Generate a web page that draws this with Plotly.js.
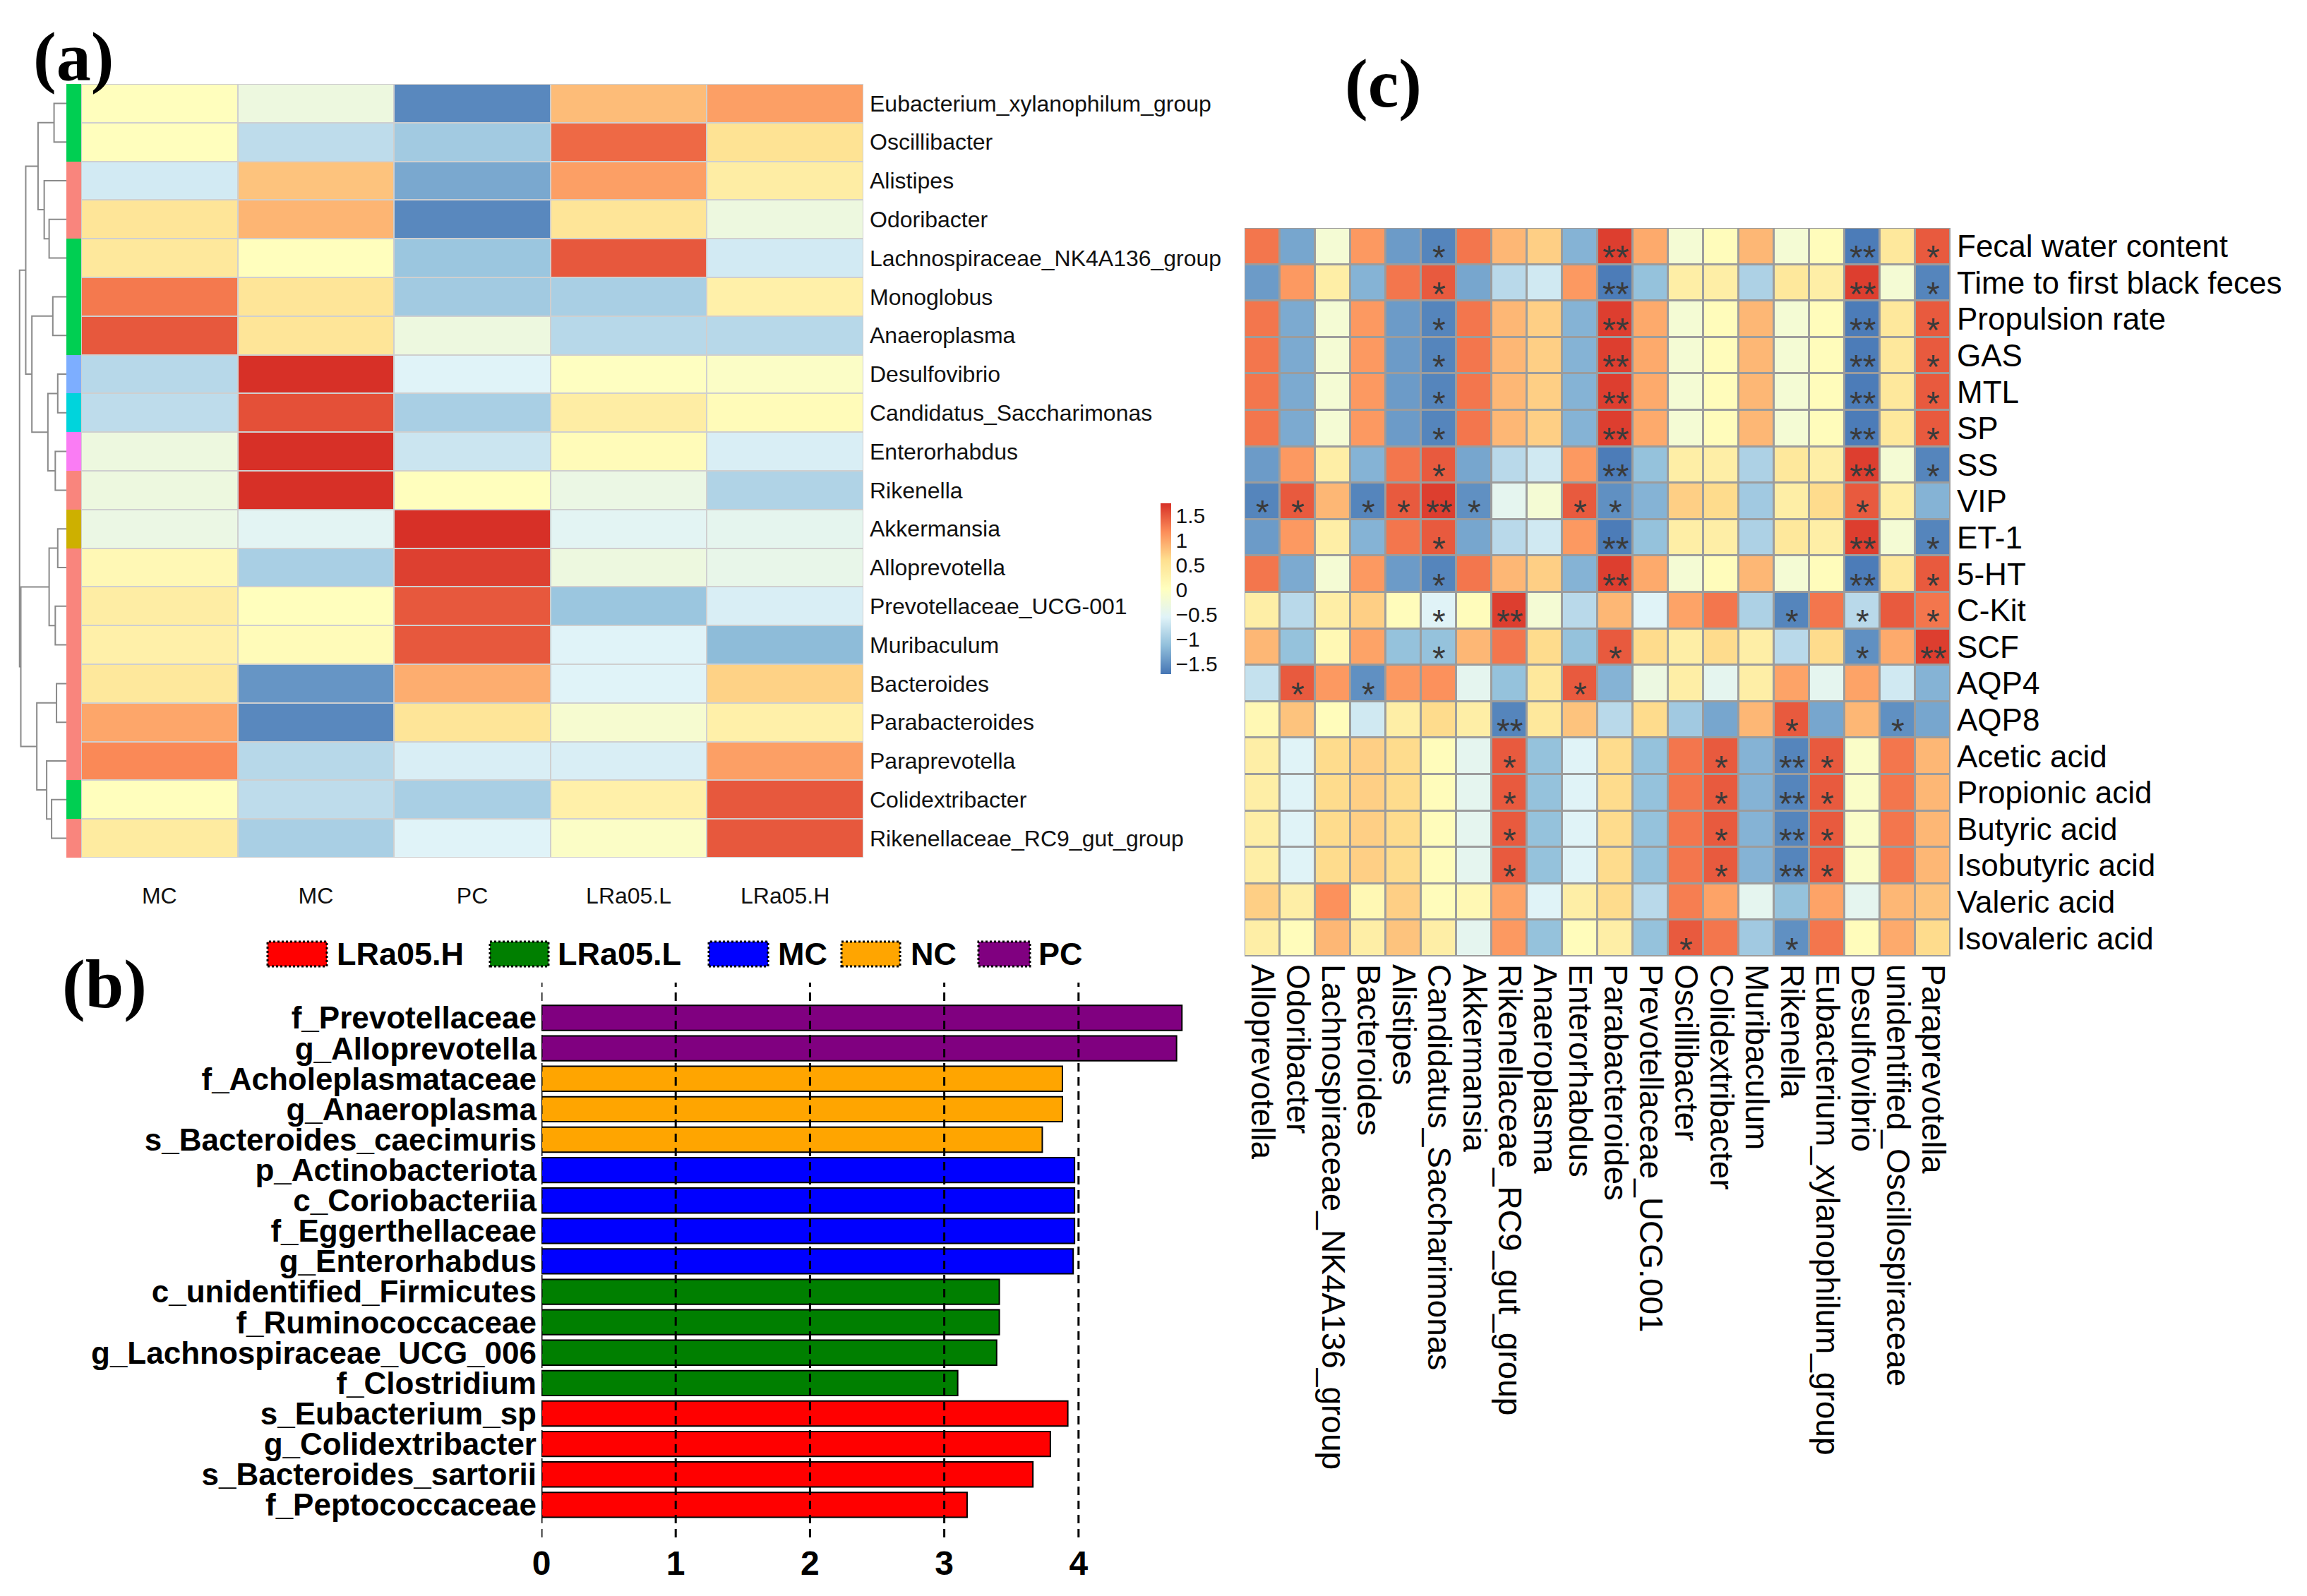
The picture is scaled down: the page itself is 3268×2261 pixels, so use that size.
<!DOCTYPE html>
<html>
<head>
<meta charset="utf-8">
<script src="https://cdn.plot.ly/plotly-3.0.1.min.js"></script>
<style>html,body{margin:0;padding:0;background:#fff}#chart{width:3268px;height:2261px}</style>
</head>
<body>
<div id="chart"></div>
<script>
// ---------------- Panel (a): abundance heatmap ----------------
const rowNamesA = ['Eubacterium_xylanophilum_group','Oscillibacter','Alistipes','Odoribacter',
  'Lachnospiraceae_NK4A136_group','Monoglobus','Anaeroplasma','Desulfovibrio','Candidatus_Saccharimonas',
  'Enterorhabdus','Rikenella','Akkermansia','Alloprevotella','Prevotellaceae_UCG-001','Muribaculum',
  'Bacteroides','Parabacteroides','Paraprevotella','Colidextribacter','Rikenellaceae_RC9_gut_group'];
const colLabelsA = ['MC','MC','PC','LRa05.L','LRa05.H'];
const abundanceZ = [
  [0.05,-0.3,-1.55,0.85,1.05],
  [0.05,-0.8,-1.0,1.4,0.55],
  [-0.65,0.8,-1.3,1.05,0.35],
  [0.5,0.9,-1.55,0.5,-0.3],
  [0.45,0.05,-1.05,1.5,-0.65],
  [1.3,0.5,-1.0,-0.95,0.3],
  [1.5,0.5,-0.3,-0.85,-0.85],
  [-0.85,1.75,-0.55,0.0,-0.05],
  [-0.8,1.55,-0.95,0.35,0.1],
  [-0.3,1.75,-0.7,0.1,-0.6],
  [-0.3,1.75,0.05,-0.35,-0.9],
  [-0.35,-0.5,1.75,-0.5,-0.45],
  [0.15,-0.95,1.65,-0.3,-0.4],
  [0.35,0.05,1.5,-1.05,-0.6],
  [0.3,0.1,1.5,-0.55,-1.15],
  [0.45,-1.45,0.95,-0.55,0.7],
  [1.0,-1.55,0.5,-0.15,0.3],
  [1.2,-0.85,-0.6,-0.6,1.05],
  [0.05,-0.8,-0.95,0.3,1.5],
  [0.4,-0.95,-0.55,-0.05,1.5]
];
const phylumA = ['Firmicutes','Firmicutes','Bacteroidota','Bacteroidota','Firmicutes','Firmicutes','Firmicutes',
  'Desulfobacterota','Patescibacteria','Actinobacteriota','Bacteroidota','Verrucomicrobiota','Bacteroidota',
  'Bacteroidota','Bacteroidota','Bacteroidota','Bacteroidota','Bacteroidota','Firmicutes','Bacteroidota'];
const phylumNames = ['Bacteroidota','Verrucomicrobiota','Firmicutes','Patescibacteria','Desulfobacterota','Actinobacteriota'];
const phylumColors = ['#F9857D','#CDB000','#00CF52','#00D4DC','#7DAEFF','#FA7CF4'];
// dendrogram merges: [left, right, height]; negative = leaf (row number), positive = earlier merge
const dendroMerges = [
  [-1,-2,50],[-4,-5,70],[-3,2,90],[1,3,115],[-6,-7,55],[-8,-9,35],[-10,-11,45],[6,7,75],
  [5,8,140],[4,9,165],[-12,-13,35],[-14,-15,45],[11,12,70],[-16,-17,40],[-19,-20,60],
  [-18,15,80],[14,16,120],[13,17,185],[10,18,190]
];
const colorbarTicks = [-1.5,-1,-0.5,0,0.5,1,1.5];
const colorbarTickText = ['\u22121.5','\u22121','\u22120.5','0','0.5','1','1.5'];

// ---------------- Panel (c): correlation heatmap ----------------
const colLabelsC = ['Alloprevotella','Odoribacter','Lachnospiraceae_NK4A136_group','Bacteroides','Alistipes',
  'Candidatus_Saccharimonas','Akkermansia','Rikenellaceae_RC9_gut_group','Anaeroplasma','Enterorhabdus',
  'Parabacteroides','Prevotellaceae_UCG.001','Oscillibacter','Colidextribacter','Muribaculum','Rikenella',
  'Eubacterium_xylanophilum_group','Desulfovibrio','unidentified_Oscillospiraceae','Paraprevotella'];
const rowLabelsC = ['Fecal water content','Time to first black feces','Propulsion rate','GAS','MTL','SP','SS',
  'VIP','ET-1','5-HT','C-Kit','SCF','AQP4','AQP8','Acetic acid','Propionic acid','Butyric acid',
  'Isobutyric acid','Valeric acid','Isovaleric acid'];
const corrZ = [
  [0.75,-0.78,-0.12,0.62,-0.83,-0.93,0.75,0.5,0.4,-0.72,0.95,0.55,-0.12,0.03,0.5,-0.12,0.03,-0.97,0.25,0.85],
  [-0.83,0.62,0.18,-0.72,0.75,0.85,-0.78,-0.5,-0.4,0.62,-0.97,-0.65,0.18,0.18,-0.55,0.25,0.18,0.95,-0.12,-0.93],
  [0.75,-0.76,-0.12,0.62,-0.83,-0.93,0.75,0.5,0.4,-0.72,0.95,0.55,-0.12,0.03,0.5,-0.12,0.03,-0.97,0.25,0.85],
  [0.75,-0.76,-0.12,0.62,-0.83,-0.93,0.75,0.5,0.4,-0.72,0.95,0.55,-0.12,0.03,0.5,-0.12,0.03,-0.97,0.25,0.85],
  [0.75,-0.76,-0.12,0.62,-0.83,-0.93,0.75,0.5,0.4,-0.72,0.95,0.55,-0.12,0.03,0.5,-0.12,0.03,-0.97,0.25,0.85],
  [0.75,-0.76,-0.12,0.62,-0.83,-0.93,0.75,0.5,0.4,-0.72,0.95,0.55,-0.12,0.03,0.5,-0.12,0.03,-0.97,0.25,0.85],
  [-0.83,0.62,0.18,-0.72,0.75,0.85,-0.78,-0.5,-0.4,0.62,-0.97,-0.65,0.18,0.18,-0.55,0.25,0.18,0.95,-0.12,-0.93],
  [-0.93,0.85,0.5,-0.93,0.85,0.95,-0.88,-0.28,-0.12,0.85,-0.88,-0.72,0.4,0.35,-0.6,0.18,0.35,0.85,0.18,-0.72],
  [-0.83,0.62,0.18,-0.72,0.75,0.85,-0.78,-0.5,-0.4,0.62,-0.97,-0.65,0.18,0.18,-0.55,0.25,0.18,0.95,-0.12,-0.93],
  [0.75,-0.76,-0.12,0.62,-0.83,-0.93,0.75,0.5,0.4,-0.72,0.95,0.55,-0.12,0.03,0.5,-0.12,0.03,-0.97,0.25,0.85],
  [0.18,-0.5,0.18,0.4,0.03,-0.33,0.03,0.95,-0.12,-0.5,0.5,-0.33,0.58,0.75,-0.55,-0.93,0.75,-0.5,0.85,0.75],
  [0.5,-0.65,0.08,0.58,-0.65,-0.65,0.5,0.75,0.35,-0.65,0.85,0.35,0.18,0.35,0.18,-0.5,0.35,-0.88,0.55,0.95],
  [-0.45,0.85,0.62,-0.88,0.62,0.65,-0.28,-0.65,0.25,0.85,-0.72,-0.2,0.18,-0.28,0.18,0.58,-0.28,0.58,-0.4,-0.72],
  [0.08,0.45,0.03,-0.4,0.18,0.35,0.18,-0.93,0.25,0.45,-0.5,0.35,-0.6,-0.78,0.5,0.85,-0.78,0.5,-0.88,-0.78],
  [0.18,-0.33,0.35,0.4,0.35,0.03,-0.28,0.85,-0.65,-0.33,0.35,-0.65,0.75,0.85,-0.72,-0.93,0.85,-0.05,0.75,0.5],
  [0.18,-0.33,0.35,0.4,0.35,0.03,-0.28,0.85,-0.65,-0.33,0.35,-0.65,0.75,0.85,-0.72,-0.93,0.85,-0.05,0.75,0.5],
  [0.18,-0.33,0.35,0.4,0.35,0.03,-0.28,0.85,-0.65,-0.33,0.35,-0.65,0.75,0.85,-0.72,-0.93,0.85,-0.05,0.75,0.5],
  [0.18,-0.33,0.35,0.4,0.35,0.03,-0.28,0.85,-0.65,-0.33,0.35,-0.65,0.75,0.85,-0.72,-0.93,0.85,-0.05,0.75,0.5],
  [0.4,0.18,0.65,0.08,0.4,0.03,0.08,0.58,-0.33,0.18,0.35,-0.5,0.72,0.58,-0.28,-0.65,0.58,-0.28,0.5,0.45],
  [0.18,0.03,0.5,0.18,0.45,0.18,-0.28,0.62,-0.65,0.03,0.18,-0.65,0.85,0.75,-0.6,-0.88,0.75,0.03,0.55,0.35]
];
const A='*', B='**', _='';
const sigC = [
  [_,_,_,_,_,A,_,_,_,_,B,_,_,_,_,_,_,B,_,A],
  [_,_,_,_,_,A,_,_,_,_,B,_,_,_,_,_,_,B,_,A],
  [_,_,_,_,_,A,_,_,_,_,B,_,_,_,_,_,_,B,_,A],
  [_,_,_,_,_,A,_,_,_,_,B,_,_,_,_,_,_,B,_,A],
  [_,_,_,_,_,A,_,_,_,_,B,_,_,_,_,_,_,B,_,A],
  [_,_,_,_,_,A,_,_,_,_,B,_,_,_,_,_,_,B,_,A],
  [_,_,_,_,_,A,_,_,_,_,B,_,_,_,_,_,_,B,_,A],
  [A,A,_,A,A,B,A,_,_,A,A,_,_,_,_,_,_,A,_,_],
  [_,_,_,_,_,A,_,_,_,_,B,_,_,_,_,_,_,B,_,A],
  [_,_,_,_,_,A,_,_,_,_,B,_,_,_,_,_,_,B,_,A],
  [_,_,_,_,_,A,_,B,_,_,_,_,_,_,_,A,_,A,_,A],
  [_,_,_,_,_,A,_,_,_,_,A,_,_,_,_,_,_,A,_,B],
  [_,A,_,A,_,_,_,_,_,A,_,_,_,_,_,_,_,_,_,_],
  [_,_,_,_,_,_,_,B,_,_,_,_,_,_,_,A,_,_,A,_],
  [_,_,_,_,_,_,_,A,_,_,_,_,_,A,_,B,A,_,_,_],
  [_,_,_,_,_,_,_,A,_,_,_,_,_,A,_,B,A,_,_,_],
  [_,_,_,_,_,_,_,A,_,_,_,_,_,A,_,B,A,_,_,_],
  [_,_,_,_,_,_,_,A,_,_,_,_,_,A,_,B,A,_,_,_],
  [_,_,_,_,_,_,_,_,_,_,_,_,_,_,_,_,_,_,_,_],
  [_,_,_,_,_,_,_,_,_,_,_,_,A,_,_,A,_,_,_,_]
];

// ---------------- Panel (b): LEfSe LDA bars ----------------
const barLabels = ['f_Prevotellaceae','g_Alloprevotella','f_Acholeplasmataceae','g_Anaeroplasma',
  's_Bacteroides_caecimuris','p_Actinobacteriota','c_Coriobacteriia','f_Eggerthellaceae','g_Enterorhabdus',
  'c_unidentified_Firmicutes','f_Ruminococcaceae','g_Lachnospiraceae_UCG_006','f_Clostridium',
  's_Eubacterium_sp','g_Colidextribacter','s_Bacteroides_sartorii','f_Peptococcaceae'];
const barValues = [4.77,4.73,3.88,3.88,3.73,3.97,3.97,3.97,3.96,3.41,3.41,3.39,3.10,3.92,3.79,3.66,3.17];
const barGroups = ['PC','PC','NC','NC','NC','MC','MC','MC','MC','LRa05.L','LRa05.L','LRa05.L','LRa05.L',
  'LRa05.H','LRa05.H','LRa05.H','LRa05.H'];
const legendGroups = ['LRa05.H','LRa05.L','MC','NC','PC'];
const groupColors = {'LRa05.H':'#FF0000','LRa05.L':'#007F00','MC':'#0000FF','NC':'#FFA500','PC':'#800080'};
const ldaTicks = [0,1,2,3,4];

// ---------------- helpers ----------------
const W = 3268, H = 2261;
const px = v => v / W;
const py = v => 1 - v / H;
const rdylbu = [[0,'#4575B4'],[1/6,'#91BFDB'],[2/6,'#E0F3F8'],[0.5,'#FFFFBF'],[4/6,'#FEE090'],[5/6,'#FC8D59'],[1,'#D73027']];
const FONT = 'Liberation Sans, Arial, sans-serif';

// discrete colorscale for the phylum strip
const stripScale = [];
phylumNames.forEach((n,i)=>{
  const k = phylumNames.length - 1;
  const lo = Math.max(0,(i-0.5)/k), hi = Math.min(1,(i+0.5)/k);
  stripScale.push([lo, phylumColors[i]]); stripScale.push([hi, phylumColors[i]]);
});
const stripZ = phylumA.map(p => [phylumNames.indexOf(p)]);

// dendrogram coordinates
const dx = [], dy = [];
(function(){
  const nodeY = [], nodeH = [];
  dendroMerges.forEach((m,i)=>{
    const [a,b,h] = m;
    const ya = a<0 ? (-a-1) : nodeY[a-1], ha = a<0 ? 0 : nodeH[a-1];
    const yb = b<0 ? (-b-1) : nodeY[b-1], hb = b<0 ? 0 : nodeH[b-1];
    dx.push(ha,h,h,hb,null); dy.push(ya,ya,yb,yb,null);
    nodeY[i] = (ya+yb)/2; nodeH[i] = h;
  });
})();

const traces = [];
traces.push({
  type:'heatmap', x:[0,1,2,3,4], y:rowNamesA, z:abundanceZ, xaxis:'x', yaxis:'y',
  colorscale: rdylbu, zmin:-1.7, zmax:1.75, xgap:2, ygap:2, hoverinfo:'skip',
  showscale:true,
  colorbar:{x:px(1644), xanchor:'left', y:py(834), yanchor:'middle', len:242/H, lenmode:'fraction',
    thickness:15, thicknessmode:'pixels', outlinewidth:0, xpad:0, ypad:0,
    tickvals:colorbarTicks, ticktext:colorbarTickText, ticks:'', tickfont:{family:FONT,size:30,color:'#111'}}
});
traces.push({
  type:'heatmap', x:[0], y:rowNamesA, z:stripZ, xaxis:'x4', yaxis:'y4',
  colorscale: stripScale, zmin:0, zmax:phylumNames.length-1, showscale:false, hoverinfo:'skip'
});
traces.push({
  type:'scatter', mode:'lines', x:dx, y:dy, xaxis:'x5', yaxis:'y5',
  line:{color:'#8a8a8a', width:2}, hoverinfo:'skip', showlegend:false
});
traces.push({
  type:'heatmap', x:colLabelsC, y:rowLabelsC, z:corrZ, xaxis:'x2', yaxis:'y2',
  colorscale: rdylbu, zmin:-1, zmax:1, xgap:3, ygap:3, showscale:false, hoverinfo:'skip'
});
traces.push({
  type:'bar', orientation:'h', x:barValues, y:barLabels, xaxis:'x3', yaxis:'y3',
  marker:{color:barGroups.map(g=>groupColors[g]), line:{color:'#000', width:2}},
  width:0.82, showlegend:false, hoverinfo:'skip'
});

const annotations = [];
// significance stars
sigC.forEach((row,i)=>row.forEach((s,j)=>{
  if (!s) return;
  annotations.push({xref:'x2', yref:'y2', x:j, y:i, text:s, showarrow:false,
    font:{family:FONT, size:48, color:'#3a3a3a'}, yshift:-16});
}));
// panel letters
[['(a)',104,80],['(b)',148,1394],['(c)',1959,118]].forEach(([t,x,y])=>{
  annotations.push({xref:'paper', yref:'paper', x:px(x), y:py(y), text:t, showarrow:false,
    xanchor:'center', yanchor:'middle', font:{family:'Liberation Serif, Times New Roman, serif', size:98, color:'#000', weight:'bold'}});
});

const shapes = [];
// cell border backgrounds
shapes.push({type:'rect', xref:'x domain', yref:'y domain', x0:0, x1:1, y0:0, y1:1, layer:'below',
  fillcolor:'#cfcfcf', line:{width:0}});
shapes.push({type:'rect', xref:'x2 domain', yref:'y2 domain', x0:0, x1:1, y0:0, y1:1, layer:'below',
  fillcolor:'#9c9c9c', line:{width:0}});
// dashed reference lines in (b)
ldaTicks.forEach(t=>{
  shapes.push({type:'line', xref:'x3', yref:'y3 domain', x0:t, x1:t, y0:0, y1:1, layer:'above',
    line:{color:'#000', width:3, dash:'12px,8px'}});
});
// legend of (b)
const legendPos = [[379,463,475],[694,777,788],[1004,1088,1100],[1192,1275,1288],[1386,1459,1469]];
legendGroups.forEach((g,i)=>{
  const [x0,x1,tx] = legendPos[i];
  shapes.push({type:'rect', xref:'paper', yref:'paper', x0:px(x0), x1:px(x1), y0:py(1369), y1:py(1334),
    fillcolor:groupColors[g], line:{color:'#000', width:3, dash:'dot'}});
  annotations.push({xref:'paper', yref:'paper', x:px(tx), y:py(1351), xanchor:'left', yanchor:'middle',
    text:g, showarrow:false, font:{family:FONT, size:45, color:'#000', weight:'bold'}});
});

const layout = {
  width:W, height:H, margin:{l:0,r:0,t:0,b:0}, paper_bgcolor:'#fff', plot_bgcolor:'rgba(0,0,0,0)',
  showlegend:false, font:{family:FONT, color:'#000'},
  // (a)
  xaxis:{domain:[px(115),px(1223)], anchor:'y', range:[-0.5,4.5], tickmode:'array', tickvals:[0,1,2,3,4], ticktext:colLabelsA,
    showgrid:false, zeroline:false, showline:false, ticks:'', ticklabelstandoff:32,
    tickfont:{family:FONT, size:32, color:'#111'}},
  yaxis:{domain:[py(1215),py(119)], anchor:'x', type:'category', range:[19.5,-0.5], side:'right', showgrid:false, zeroline:false,
    tickmode:'array', tickvals:rowNamesA, ticktext:rowNamesA,
    ticks:'', ticklabelstandoff:8, tickfont:{family:FONT, size:32, color:'#111'}},
  xaxis4:{domain:[px(94),px(115)], anchor:'y4', showticklabels:false, showgrid:false, zeroline:false, ticks:''},
  yaxis4:{domain:[py(1215),py(119)], anchor:'x4', type:'category', range:[19.5,-0.5], showticklabels:false, showgrid:false, zeroline:false, ticks:''},
  xaxis5:{domain:[px(26),px(94)], anchor:'y5', range:[195,0], showticklabels:false, showgrid:false, zeroline:false, ticks:''},
  yaxis5:{domain:[py(1215),py(119)], anchor:'x5', range:[19.5,-0.5], showticklabels:false, showgrid:false, zeroline:false, ticks:''},
  // (c)
  xaxis2:{domain:[px(1763),px(2763)], anchor:'y2', type:'category', range:[-0.5,19.5], tickangle:90,
    tickmode:'array', tickvals:colLabelsC, ticktext:colLabelsC, showgrid:false, zeroline:false, ticks:'',
    ticklabelstandoff:10, tickfont:{family:FONT, size:46, color:'#000'}},
  yaxis2:{domain:[py(1355),py(323)], anchor:'x2', type:'category', range:[19.5,-0.5], side:'right', showgrid:false, zeroline:false,
    tickmode:'array', tickvals:rowLabelsC, ticktext:rowLabelsC,
    ticks:'', ticklabelstandoff:8, tickfont:{family:FONT, size:44, color:'#000'}},
  // (b)
  xaxis3:{domain:[px(767),px(1699)], anchor:'y3', range:[0,4.9], tickmode:'array', tickvals:ldaTicks, showgrid:false, zeroline:false,
    showline:false, ticks:'', ticklabelstandoff:4, tickfont:{family:FONT, size:48, color:'#000', weight:'bold'}},
  yaxis3:{domain:[py(2178),py(1392)], anchor:'x3', type:'category', range:[17.07,-1.16], showgrid:false, zeroline:false,
    tickmode:'array', tickvals:barLabels, ticktext:barLabels,
    showline:false, ticks:'', ticklabelstandoff:6, tickfont:{family:FONT, size:44, color:'#000', weight:'bold'}},
  annotations, shapes
};

Plotly.newPlot('chart', traces, layout, {staticPlot:true});
</script>
</body>
</html>
